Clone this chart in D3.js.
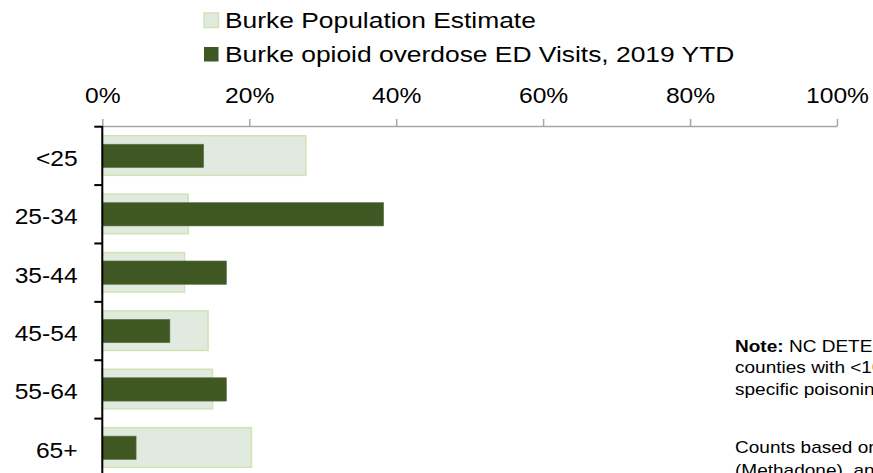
<!DOCTYPE html>
<html>
<head>
<meta charset="utf-8">
<script src="https://cdn.jsdelivr.net/npm/d3@7"></script>
<style>
  body { margin: 0; background: #fff; }
  text { font-family: "Liberation Sans", Arial, sans-serif; fill: #000; }
</style>
</head>
<body>
<div id="chart"></div>
<script>
// data
const categories = ["<25", "25-34", "35-44", "45-54", "55-64", "65+"];
const popEstimate = [0.277, 0.117, 0.112, 0.144, 0.150, 0.203];
const edVisits = [0.138, 0.383, 0.169, 0.092, 0.169, 0.046];
const tickValues = [0, 0.2, 0.4, 0.6, 0.8, 1];
const legendLabels = ["Burke Population Estimate", "Burke opioid overdose ED Visits, 2019 YTD"];
const noteLines = [
  [["Note:", true], [" NC DETECT counts are suppressed for", false]],
  [["counties with <10 visits in a given month and for", false]],
  [["specific poisonings with low counts.", false]],
  [],
  [["Counts based on T40.0 (Opium), T40.1 (Heroin), T40.3", false]],
  [["(Methadone), and T40.4 (Synthetic narcotics).", false]]
];
const noteBaselines = [352, 373.5, 395, 424, 453, 476.5];

const width = 873, height = 473;
const lightFill = "#e0eadf", lightStroke = "#d3e2b5", darkFill = "#3f5722";

const svg = d3.select("#chart").append("svg")
  .attr("width", width)
  .attr("height", height);

const x = d3.scaleLinear().domain([0, 1]).range([102.3, 837]);
const y = d3.scaleBand().domain(categories).range([126.7, 477]);
const bw = y.bandwidth();

// population bars (wide, light)
svg.append("g")
  .selectAll("rect")
  .data(categories)
  .join("rect")
  .attr("x", x(0))
  .attr("y", d => y(d) + bw * 0.155)
  .attr("width", (d, i) => x(popEstimate[i]) - x(0))
  .attr("height", bw * 0.678)
  .attr("fill", lightFill)
  .attr("stroke", lightStroke)
  .attr("stroke-width", 1.5);

// ED visit bars (narrow, dark)
svg.append("g")
  .selectAll("rect")
  .data(categories)
  .join("rect")
  .attr("x", x(0))
  .attr("y", d => y(d) + bw * 0.3)
  .attr("width", (d, i) => x(edVisits[i]) - x(0))
  .attr("height", bw * 0.4)
  .attr("fill", darkFill)
  .attr("stroke", "#62774a")
  .attr("stroke-width", 0.6);

// top value axis
const xAxis = svg.append("g")
  .attr("transform", "translate(0,126)")
  .call(d3.axisTop(x).tickValues(tickValues).tickFormat(d3.format(".0%"))
    .tickSize(7).tickSizeOuter(0).tickPadding(16));
xAxis.select(".domain").attr("stroke", "#a6a6a6").attr("stroke-width", 1.5);
xAxis.selectAll(".tick line").attr("stroke", "#a6a6a6").attr("stroke-width", 1.5);
xAxis.selectAll(".tick text")
  .attr("font-size", 22)
  .attr("transform", "scale(1.12,1)");

// category axis
const yAxis = svg.append("g")
  .attr("transform", `translate(${x(0)},0)`)
  .call(d3.axisLeft(y).tickSize(0).tickPadding(22));
yAxis.select(".domain").remove();
yAxis.selectAll(".tick text")
  .attr("font-size", 22)
  .attr("dy", "0.45em")
  .attr("transform", "scale(1.12,1)");

svg.append("g")
  .selectAll("line")
  .data(categories)
  .join("line")
  .attr("x1", x(0) - 8)
  .attr("x2", x(0))
  .attr("y1", d => y(d))
  .attr("y2", d => y(d))
  .attr("stroke", "#000")
  .attr("stroke-width", 2);

svg.append("line")
  .attr("x1", x(0)).attr("x2", x(0))
  .attr("y1", 126).attr("y2", height)
  .attr("stroke", "#000")
  .attr("stroke-width", 2);

// legend
const legend = svg.append("g")
  .selectAll("g")
  .data(legendLabels)
  .join("g")
  .attr("transform", (d, i) => `translate(204,${13 + i * 34})`);

legend.append("rect")
  .attr("width", 14.5)
  .attr("height", 14.5)
  .attr("fill", (d, i) => i === 0 ? lightFill : darkFill)
  .attr("stroke", (d, i) => i === 0 ? lightStroke : "none")
  .attr("stroke-width", 1.5);

legend.append("text")
  .attr("transform", "translate(21,14.5) scale(1.2,1)")
  .attr("font-size", 22)
  .text(d => d);

// note, runs off the right edge like the original
const note = svg.append("text")
  .attr("transform", "translate(735,0) scale(1.12,1)")
  .attr("font-size", 17);

noteLines.forEach((line, i) => {
  line.forEach((part, j) => {
    note.append("tspan")
      .attr("x", j === 0 ? 0 : null)
      .attr("y", j === 0 ? noteBaselines[i] : null)
      .attr("font-weight", part[1] ? "bold" : "normal")
      .text(part[0]);
  });
});
</script>
</body>
</html>
